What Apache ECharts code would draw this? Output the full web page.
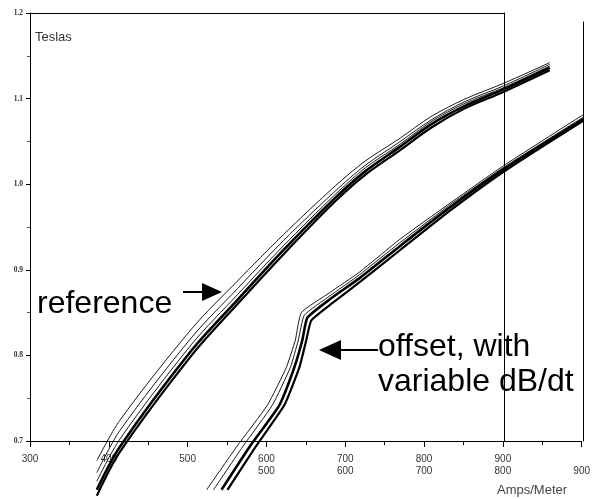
<!DOCTYPE html>
<html><head><meta charset="utf-8">
<script src="https://cdn.jsdelivr.net/npm/echarts@6/dist/echarts.min.js"></script>
<style>html,body{margin:0;padding:0;background:#fff}#c{width:593px;height:499px}</style>
</head><body><div id="c"></div><script>
// ---- tick labels ----
const xTickValues = [300, 400, 500, 600, 700, 800, 900, 1000];
const xTickLabels = ['300', '400', '500', '600\n500', '700\n600', '800\n700', '900\n800', '\n900'];
const yTickValues = [0.7, 0.8, 0.9, 1.0, 1.1, 1.2];
const yTickLabels = ['0.7', '0.8', '0.9', '1.0', '1.1', '1.2'];

// ---- "reference" bundle (Amps/Meter, Teslas) ----
const refThinA = [[384.8,0.677],[413.9,0.724],[505.1,0.831],[563.3,0.887],[621.5,0.941],[687.3,0.998],[725.3,1.027],[768.4,1.053],[808.9,1.079],[850.6,1.099],[901.3,1.118],[959.5,1.142]];
const refThinB = [[384.8,0.663],[413.9,0.712],[505.1,0.821],[563.3,0.878],[621.5,0.934],[687.3,0.992],[725.3,1.022],[768.4,1.049],[808.9,1.075],[850.6,1.096],[901.3,1.115],[959.5,1.140]];
const refThinC = [[384.8,0.653],[413.9,0.702],[505.1,0.813],[563.3,0.871],[621.5,0.928],[687.3,0.988],[725.3,1.019],[768.4,1.046],[808.9,1.073],[850.6,1.094],[901.3,1.113],[959.5,1.138]];
const refMain  = [[384.8,0.643],[413.9,0.693],[505.1,0.806],[563.3,0.865],[621.5,0.923],[687.3,0.984],[725.3,1.015],[768.4,1.043],[808.9,1.070],[850.6,1.091],[901.3,1.111],[959.5,1.136]];
const refDark2 = [[384.8,0.636],[413.9,0.687],[505.1,0.800],[563.3,0.860],[621.5,0.918],[687.3,0.980],[725.3,1.011],[768.4,1.039],[808.9,1.066],[850.6,1.088],[901.3,1.108],[959.5,1.133]];

// ---- "offset, with variable dB/dt" bundle ----
const offThinA = [[524.1,0.643],[562.0,0.693],[601.3,0.742],[625.3,0.786],[636.7,0.818],[644.3,0.850],[679.7,0.873],[717.7,0.897],[768.4,0.935],[831.6,0.977],[900,1.021],[1000,1.080],[1012.7,1.086]];
const offThinB = [[532.9,0.643],[569.6,0.693],[607.6,0.742],[630.4,0.786],[640.5,0.818],[648.1,0.847],[679.7,0.869],[717.7,0.894],[768.4,0.931],[831.6,0.975],[900,1.019],[1000,1.077],[1012.7,1.083]];
const offMain  = [[543.0,0.643],[578.5,0.693],[616.5,0.742],[635.4,0.786],[645.6,0.818],[651.9,0.844],[679.7,0.865],[717.7,0.890],[768.4,0.927],[831.6,0.972],[900,1.017],[1000,1.075],[1012.7,1.081]];
const offDark2 = [[550.6,0.643],[586.1,0.693],[622.8,0.742],[641.8,0.786],[650.6,0.818],[657.0,0.841],[683.5,0.861],[720.3,0.887],[770.9,0.924],[834.2,0.970],[900,1.014],[1000,1.073],[1012.7,1.079]];

const chart = echarts.init(document.getElementById('c'), null, {renderer: 'canvas'});

function lineSeries(data, width, smooth) {
  return {
    type: 'line', data: data, xAxisIndex: 0, yAxisIndex: 0,
    showSymbol: false, symbol: 'none', clip: false, smooth: smooth,
    lineStyle: {color: '#000', width: width}, z: 3, silent: true
  };
}

const frameLine = {show: true, onZero: false, lineStyle: {color: '#000', width: 1}};

chart.setOption({
  animation: false,
  backgroundColor: '#fff',
  grid: [
    {left: 30, top: 13, width: 553, height: 428},
    {left: 30, top: 13, width: 474, height: 428},
    {left: 30, top: 22, width: 553, height: 419}
  ],
  xAxis: [
    {
      gridIndex: 0, type: 'value', min: 300, max: 1000, interval: 100,
      axisLine: {show: true, onZero: false, lineStyle: {color: '#000', width: 1}},
      axisTick: {show: true, length: 6, lineStyle: {color: '#000'}},
      minorTick: {show: true, splitNumber: 2, length: 4, lineStyle: {color: '#000'}},
      splitLine: {show: false},
      axisLabel: {
        show: true, margin: 12, fontSize: 10, lineHeight: 12, color: '#333',
        fontFamily: 'Liberation Sans, Arial, sans-serif', showMaxLabel: true, showMinLabel: true,
        formatter: function (v) { const i = xTickValues.indexOf(Math.round(v)); return i >= 0 ? xTickLabels[i] : ''; }
      }
    },
    {gridIndex: 1, type: 'value', min: 0, max: 1, position: 'top', axisLine: frameLine, axisTick: {show: false}, axisLabel: {show: false}, splitLine: {show: false}},
    {gridIndex: 2, type: 'value', min: 0, max: 1, position: 'top', axisLine: {show: false}, axisTick: {show: false}, axisLabel: {show: false}, splitLine: {show: false}}
  ],
  yAxis: [
    {
      gridIndex: 0, type: 'value', min: 0.7, max: 1.2, interval: 0.1,
      axisLine: {show: true, onZero: false, lineStyle: {color: '#000', width: 1}},
      axisTick: {show: true, length: 4, lineStyle: {color: '#000'}},
      minorTick: {show: true, splitNumber: 2, length: 3, lineStyle: {color: '#555'}},
      splitLine: {show: false},
      axisLabel: {
        show: true, margin: 7, fontSize: 7.5, fontWeight: 'bold', color: '#333',
        fontFamily: 'Liberation Serif, serif', showMaxLabel: true, showMinLabel: true,
        formatter: function (v) { const i = Math.round((v - 0.7) / 0.1); return yTickLabels[i] || ''; }
      }
    },
    {gridIndex: 1, type: 'value', min: 0, max: 1, position: 'right', axisLine: frameLine, axisTick: {show: false}, axisLabel: {show: false}, splitLine: {show: false}},
    {gridIndex: 2, type: 'value', min: 0, max: 1, position: 'right', axisLine: frameLine, axisTick: {show: false}, axisLabel: {show: false}, splitLine: {show: false}}
  ],
  series: [
    lineSeries(refThinA, 0.9, 0.3),
    lineSeries(refThinB, 0.9, 0.3),
    lineSeries(refThinC, 0.9, 0.3),
    lineSeries(refMain, 2.6, 0.3),
    lineSeries(refDark2, 2.2, 0.3),
    lineSeries(offThinA, 0.9, 0.15),
    lineSeries(offThinB, 0.9, 0.15),
    lineSeries(offMain, 2.6, 0.15),
    lineSeries(offDark2, 2.2, 0.15)
  ],
  graphic: [
    {type: 'text', left: 35, top: 31, style: {text: 'Teslas', font: '13px "Liberation Sans", Arial, sans-serif', fill: '#333'}},
    {type: 'text', left: 497, top: 484, style: {text: 'Amps/Meter', font: '13px "Liberation Sans", Arial, sans-serif', fill: '#444'}},
    {type: 'text', x: 37, y: 304, style: {text: 'reference', font: '32px "Liberation Sans", Arial, sans-serif', fill: '#000', verticalAlign: 'middle'}},
    {type: 'text', x: 378, y: 347, style: {text: 'offset, with', font: '32px "Liberation Sans", Arial, sans-serif', fill: '#000', verticalAlign: 'middle'}},
    {type: 'text', x: 378, y: 382, style: {text: 'variable dB/dt', font: '32px "Liberation Sans", Arial, sans-serif', fill: '#000', verticalAlign: 'middle'}},
    {type: 'line', shape: {x1: 183, y1: 292, x2: 204, y2: 292}, style: {stroke: '#000', lineWidth: 2}},
    {type: 'polygon', shape: {points: [[202, 283], [222, 292], [202, 301]]}, style: {fill: '#000'}},
    {type: 'line', shape: {x1: 339, y1: 350, x2: 378, y2: 350}, style: {stroke: '#000', lineWidth: 2}},
    {type: 'polygon', shape: {points: [[319, 350], [341, 340], [341, 360]]}, style: {fill: '#000'}}
  ]
});
</script></body></html>
